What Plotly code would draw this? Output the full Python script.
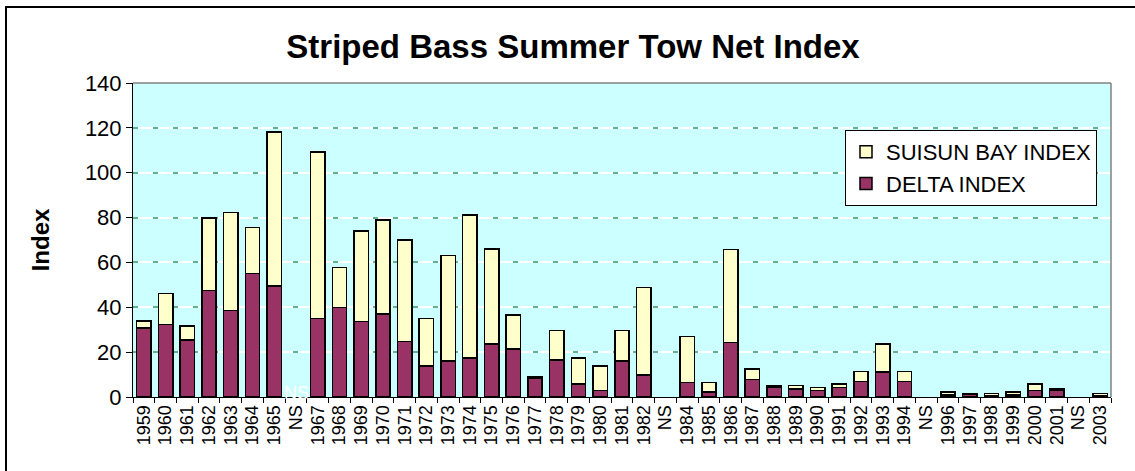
import plotly.graph_objects as go

categories = ["1959", "1960", "1961", "1962", "1963", "1964", "1965", "NS",
              "1967", "1968", "1969", "1970", "1971", "1972", "1973", "1974",
              "1975", "1976", "1977", "1978", "1979", "1980", "1981", "1982", "NS",
              "1984", "1985", "1986", "1987", "1988", "1989", "1990", "1991",
              "1992", "1993", "1994", "NS",
              "1996", "1997", "1998", "1999", "2000", "2001", "NS", "2003"]

delta_index = [30.8, 32.3, 25.5, 47.4, 38.5, 55.0, 49.5, None,
               35.0, 39.8, 33.7, 37.1, 24.7, 13.9, 16.0, 17.3,
               23.6, 21.3, 8.2, 16.5, 5.7, 2.8, 16.0, 9.8, None,
               6.4, 2.2, 24.3, 7.7, 4.3, 3.6, 2.8, 4.3,
               7.0, 11.2, 7.0, None,
               1.0, 1.2, 0.5, 1.0, 3.0, 3.0, None, 0.5]

suisun_index = [3.0, 13.9, 6.2, 32.4, 43.8, 20.6, 68.6, None,
                74.3, 17.9, 40.4, 41.8, 45.4, 21.1, 47.2, 63.8,
                42.3, 15.2, 0.7, 13.2, 11.6, 11.1, 13.7, 39.1, None,
                20.6, 4.2, 41.4, 4.8, 0.6, 1.5, 1.5, 1.4,
                4.3, 12.4, 4.3, None,
                1.2, 0.3, 1.0, 1.2, 2.7, 0.6, None, 1.0]

title_text = "Striped Bass Summer Tow Net Index"
y_title = "Index"
y_ticks = [0, 20, 40, 60, 80, 100, 120, 140]

positions = list(range(len(categories)))
ns_label_idx = categories.index("NS")

FONT = "Liberation Sans, Arial, sans-serif"
DELTA_COLOR = "#993366"
SUISUN_COLOR = "#FFFFCC"

fig = go.Figure()
fig.add_trace(go.Bar(
    x=positions, y=delta_index, name="DELTA INDEX",
    marker=dict(color=DELTA_COLOR, line=dict(color="#000000", width=1.5)),
))
fig.add_trace(go.Bar(
    x=positions, y=suisun_index, name="SUISUN BAY INDEX",
    marker=dict(color=SUISUN_COLOR, line=dict(color="#000000", width=1.5)),
))
# invisible helper trace so the overlaid grid axis (dashed green grid) is drawn
fig.add_trace(go.Scatter(
    x=positions, y=delta_index, yaxis="y2", mode="markers",
    marker=dict(opacity=0, size=1), showlegend=False, hoverinfo="skip",
))

L, T, R, B = 133, 83, 24, 74
W, H = 1135, 471
pw, ph = W - L - R, H - T - B

fig.update_layout(
    width=W, height=H,
    barmode="stack", bargap=0.34,
    paper_bgcolor="white", plot_bgcolor="#CCFFFF",
    margin=dict(l=L, r=R, t=T, b=B, pad=0),
    font=dict(family=FONT, color="black"),
    title=dict(text="<b>" + title_text + "</b>", x=573 / W, xanchor="center",
               y=1 - 46 / H, yanchor="middle", font=dict(size=33, family=FONT)),
    showlegend=True,
    legend=dict(
        x=(845 - L) / pw, y=(H - B - 130) / ph, xanchor="left", yanchor="top",
        traceorder="reversed", bgcolor="white", bordercolor="black", borderwidth=1,
        font=dict(size=22, family=FONT), itemwidth=30,
        tracegroupgap=0,
    ),
    xaxis=dict(
        range=[-0.5, len(categories) - 0.5],
        tickmode="array", tickvals=positions, ticktext=categories,
        tickangle=-90, tickfont=dict(size=18, family=FONT),
        ticks="", showgrid=False, zeroline=False,
        showline=True, linecolor="#000000", linewidth=1,
        minor=dict(ticks="outside", tick0=-0.5, dtick=1, ticklen=5,
                   tickcolor="#000000", showgrid=False),
    ),
    yaxis=dict(
        range=[0, 140], tickmode="array", tickvals=y_ticks,
        tickfont=dict(size=22, family=FONT),
        ticks="outside", ticklen=6, tickcolor="#000000",
        showline=True, linecolor="#000000", linewidth=1,
        showgrid=True, gridcolor="white", gridwidth=1.5,
        zeroline=False,
        title=dict(text="<b>" + y_title + "</b>", font=dict(size=24, family=FONT),
                   standoff=28),
    ),
    yaxis2=dict(
        range=[0, 140], overlaying="y", side="left", anchor="x",
        tickmode="array", tickvals=y_ticks,
        showticklabels=False, ticks="", showline=False, zeroline=False,
        showgrid=True, gridcolor="#5DB48C", gridwidth=1.5, griddash="5px,15px",
    ),
    shapes=[
        # chart outer border
        dict(type="rect", xref="paper", yref="paper",
             x0=(6 - L) / pw, x1=(W + 5 - L) / pw,
             y0=(H - B - (H + 5)) / ph, y1=(H - B - 7) / ph,
             line=dict(color="black", width=2), fillcolor="rgba(0,0,0,0)", layer="above"),
        # plot area top/right border
        dict(type="line", xref="paper", yref="paper", x0=0, x1=1, y0=1, y1=1,
             line=dict(color="#808080", width=1.5), layer="above"),
        dict(type="line", xref="paper", yref="paper", x0=1, x1=1, y0=0, y1=1,
             line=dict(color="#808080", width=1.5), layer="above"),
    ],
    annotations=[
        dict(x=positions[ns_label_idx], y=0, xref="x", yref="y",
             text=categories[ns_label_idx], showarrow=False,
             font=dict(size=18, color="white", family=FONT),
             yanchor="middle", yshift=4),
    ],
)

fig.write_html("out.html", post_script="document.body.style.margin='0';",
               config={"displayModeBar": False})
